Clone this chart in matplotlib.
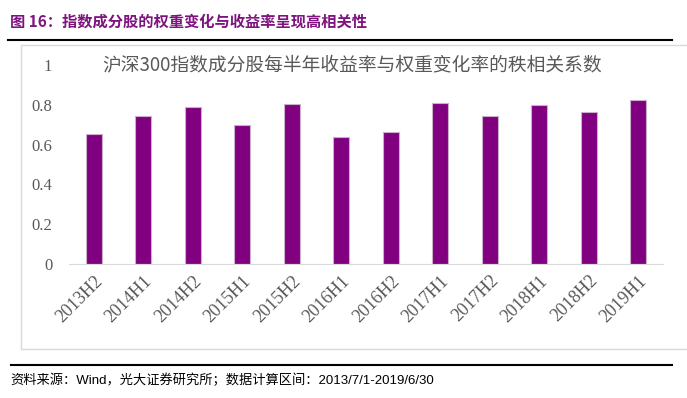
import matplotlib
matplotlib.use('Agg')
import matplotlib.pyplot as plt
from matplotlib.patches import Rectangle
from matplotlib.lines import Line2D

# Datos del gráfico
periodos = ['2013H2', '2014H1', '2014H2', '2015H1', '2015H2', '2016H1',
            '2016H2', '2017H1', '2017H2', '2018H1', '2018H2', '2019H1']
correlacion = [0.655, 0.742, 0.789, 0.696, 0.804, 0.637,
               0.662, 0.807, 0.745, 0.799, 0.762, 0.825]
yticks = [0, 0.2, 0.4, 0.6, 0.8, 1]

titulo = '图 16：指数成分股的权重变化与收益率呈现高相关性'
subtitulo = '沪深300指数成分股每半年收益率与权重变化率的秩相关系数'
fuente = '资料来源：Wind，光大证券研究所；数据计算区间：2013/7/1-2019/6/30'

W, H = 687, 398
fig = plt.figure(figsize=(W / 100, H / 100), dpi=100)

# Marco gris del gráfico
fig.patches.append(Rectangle((21 / W, 1 - 349 / H), 700 / W, (349 - 45) / H,
                             transform=fig.transFigure, fill=False,
                             edgecolor='#D9D9D9', linewidth=1))
# Líneas negras de cabecera y pie
fig.lines.append(Line2D([8 / W, 672 / W], [1 - 40 / H] * 2,
                        transform=fig.transFigure, color='black', linewidth=1.5))
fig.lines.append(Line2D([11 / W, 672 / W], [1 - 365 / H] * 2,
                        transform=fig.transFigure, color='black', linewidth=1.5))

fig.text(10 / W, 1 - 22 / H, titulo, fontsize=11, fontweight='bold',
         color='#7F1380', va='center', ha='left',
         family=['Noto Sans CJK SC', 'DejaVu Sans'])
fig.text(352 / W, 1 - 65 / H, subtitulo, fontsize=13.5, color='#595959',
         va='center', ha='center', family=['Noto Sans CJK SC', 'DejaVu Sans'])
fig.text(10 / W, 1 - 380 / H, fuente, fontsize=9.5, color='black',
         va='center', ha='left',
         family=['Liberation Sans', 'Noto Sans CJK SC'])

ax = fig.add_axes([69 / W, 1 - 264 / H, (663 - 69) / W, (264 - 65) / H])
x = range(len(periodos))
ax.bar(x, correlacion, width=0.33, color='#800080',
       edgecolor='#CBB0CB', linewidth=0.8)
ax.set_xlim(-0.5, len(periodos) - 0.5)
ax.set_ylim(0, 1)
ax.set_yticks(yticks)
ax.set_yticklabels(['0', '0.2', '0.4', '0.6', '0.8', '1'])
ax.set_xticks(list(x))
ax.set_xticklabels(periodos, rotation=45, ha='right', rotation_mode='anchor')

for s in ['top', 'right', 'left']:
    ax.spines[s].set_visible(False)
ax.spines['bottom'].set_color('#D9D9D9')
ax.tick_params(axis='both', length=0, colors='#595959', labelsize=12)
ax.tick_params(axis='x', labelsize=13, pad=6)
ax.tick_params(axis='y', pad=12)
for lab in ax.get_xticklabels() + ax.get_yticklabels():
    lab.set_family('Liberation Serif')

fig.savefig('out.png', dpi=100)
